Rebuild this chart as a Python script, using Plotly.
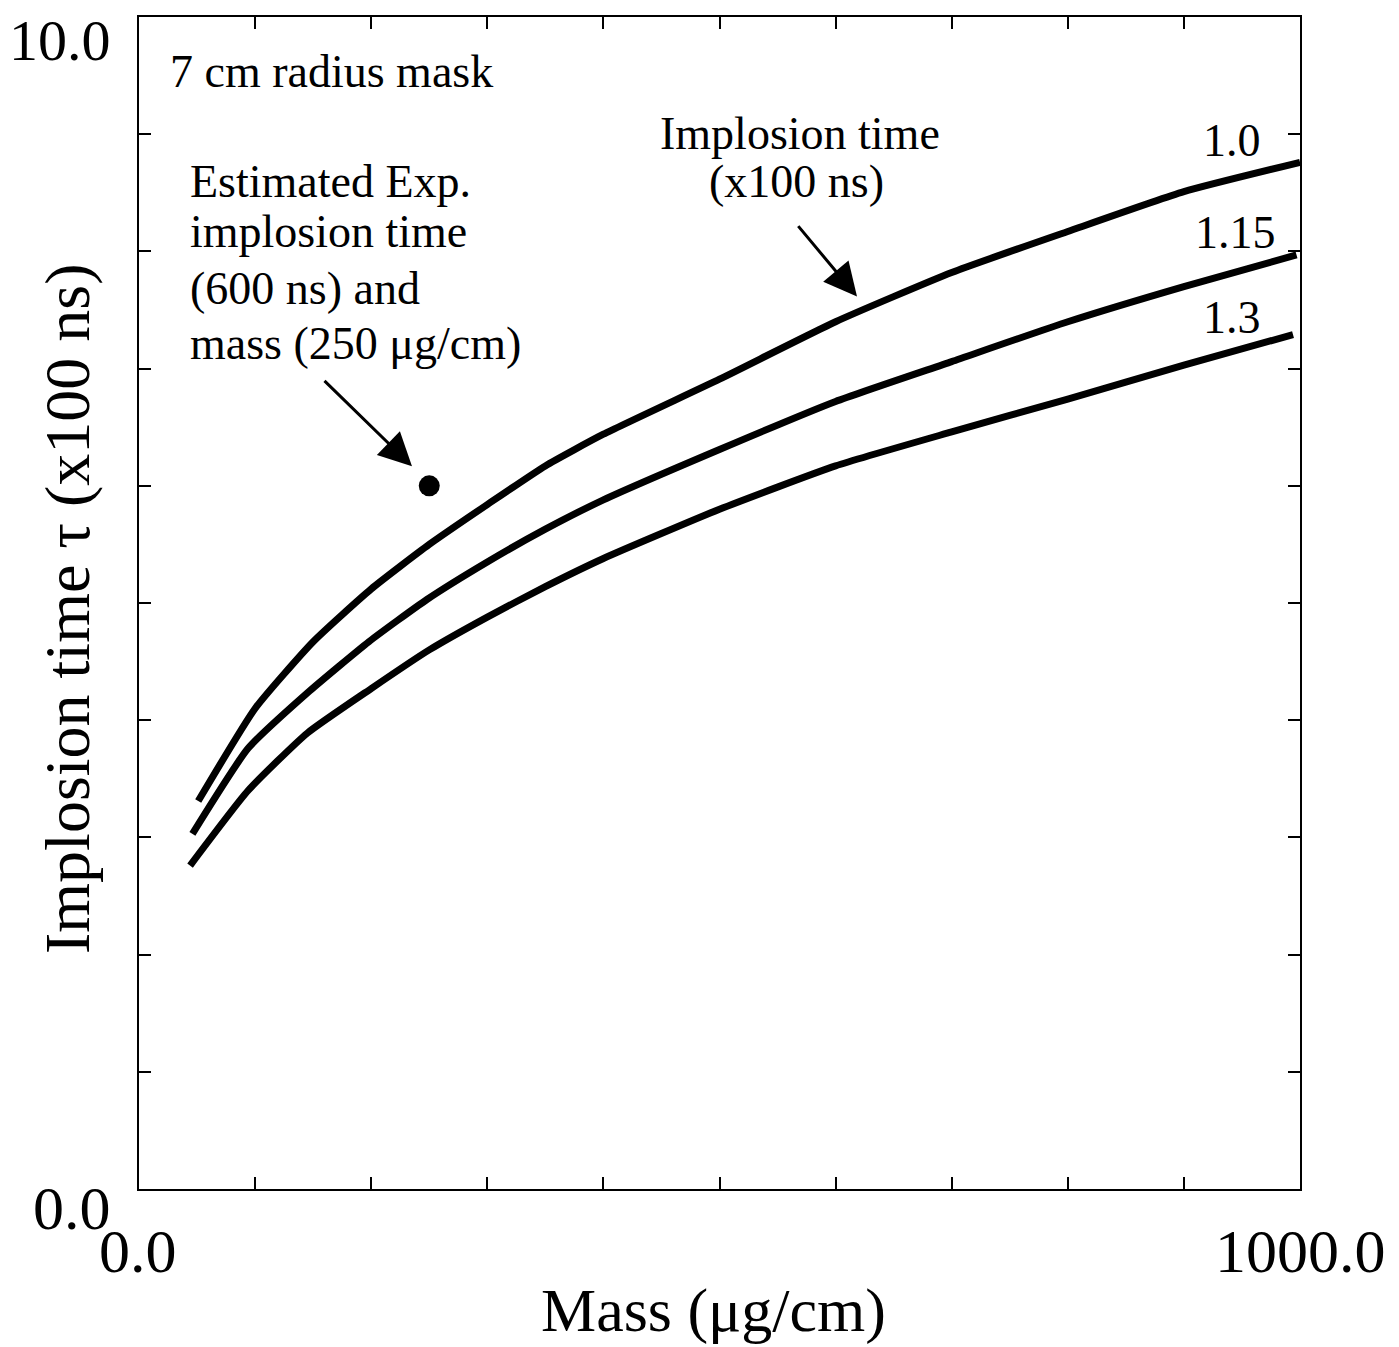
import plotly.graph_objects as go

# ---- data ----
mass_10 = [51, 100, 150, 200, 250, 300, 350, 400, 500, 600, 700, 800, 900, 1000]
tau_10 = [3.31, 4.10, 4.67, 5.12, 5.50, 5.84, 6.17, 6.44, 6.91, 7.40, 7.82, 8.17, 8.51, 8.76]

mass_115 = [46, 94, 147, 198, 248, 300, 350, 400, 500, 600, 700, 800, 900, 997]
tau_115 = [3.03, 3.76, 4.25, 4.67, 5.03, 5.35, 5.63, 5.88, 6.31, 6.72, 7.06, 7.40, 7.70, 7.97]

mass_13 = [44, 94, 145, 200, 250, 300, 350, 400, 500, 600, 700, 800, 900, 994]
tau_13 = [2.76, 3.40, 3.89, 4.27, 4.60, 4.88, 5.14, 5.38, 5.80, 6.17, 6.46, 6.74, 7.03, 7.29]

curve_labels = ["1.0", "1.15", "1.3"]

exp_mass = [250]
exp_tau = [6.0]

x_tick_labels = ["0.0", "1000.0"]
y_tick_labels = ["0.0", "10.0"]

x_title = "Mass (μg/cm)"
y_title = "Implosion time τ (x100 ns)"
mask_text = "7 cm radius mask"
exp_text_lines = ["Estimated Exp.", "implosion time", "(600 ns) and", "mass (250 μg/cm)"]
impl_text_lines = ["Implosion time", "(x100 ns)"]

FONT = "Liberation Serif, Times New Roman, serif"

# target screen geometry of the plot area: x 139..1300, y 15..1189
PX0, PX1, PY0, PY1 = 139, 1300, 15, 1189
OFF = 8  # page body offset

def px2paper_x(px):
    return (px - PX0) / (PX1 - PX0)

def py2paper_y(py):
    return (PY1 - py) / (PY1 - PY0)

def dx(px):
    return (px - PX0) / (PX1 - PX0) * 1000

def dy(py):
    return (PY1 - py) / (PY1 - PY0) * 10

fig = go.Figure()
for xs, ys, name in [(mass_10, tau_10, curve_labels[0]),
                     (mass_115, tau_115, curve_labels[1]),
                     (mass_13, tau_13, curve_labels[2])]:
    fig.add_trace(go.Scatter(x=xs, y=ys, mode="lines", name=name,
                             line=dict(color="black", width=7, shape="spline", smoothing=0.5),
                             showlegend=False, cliponaxis=False))

fig.add_trace(go.Scatter(x=exp_mass, y=exp_tau, mode="markers",
                         marker=dict(color="black", size=21),
                         showlegend=False))

ann = []
tf = dict(family=FONT, color="black")

def txt(px, py, text, size, xanchor="center", **kw):
    d = dict(x=px2paper_x(px), y=py2paper_y(py), xref="paper", yref="paper",
             xanchor=xanchor, yanchor="middle",
             text=text, showarrow=False, font=dict(size=size, **tf))
    d.update(kw)
    ann.append(d)

# tick labels
txt(60, 39, y_tick_labels[1], 58)
txt(72, 1208, y_tick_labels[0], 62)
txt(138, 1251, x_tick_labels[0], 62)
txt(1300, 1251, x_tick_labels[1], 62)

# axis titles
txt(713, 1311, x_title, 62)
txt(68, 608, y_title, 64, textangle=-90)

# in-plot texts
txt(168, 70, mask_text, 46, xanchor="left")
for i, line in enumerate(exp_text_lines):
    txt(188, [180, 230, 287, 342][i], line, 46, xanchor="left")
txt(800, 132, impl_text_lines[0], 46)
txt(796, 180, impl_text_lines[1], 46)
for lab, px, py in zip(curve_labels, [1232, 1235, 1232], [139, 231, 316]):
    txt(px, py, lab, 46)

# arrows
for (tx, ty, hx, hy) in [(323, 378, 412, 465), (797, 223, 857, 295)]:
    ann.append(dict(x=dx(hx), y=dy(hy), ax=dx(tx), ay=dy(ty), xref="x", yref="y",
                    axref="x", ayref="y", text="", showarrow=True,
                    arrowhead=2, arrowsize=2.2, arrowwidth=3, arrowcolor="black",
                    standoff=0, startstandoff=0))

fig.update_layout(
    width=1399, height=1347,
    margin=dict(l=PX0 - OFF, r=1399 - PX1 + OFF, t=PY0 - OFF, b=1347 - PY1 + OFF),
    paper_bgcolor="white", plot_bgcolor="white",
    annotations=ann,
    font=dict(family=FONT, color="black"),
    xaxis=dict(range=[0, 1000], dtick=100, tick0=0, ticks="inside", ticklen=12,
               tickwidth=2, tickcolor="black", showticklabels=False,
               showline=True, linecolor="black", linewidth=2, mirror="allticks",
               showgrid=False, zeroline=False),
    yaxis=dict(range=[0, 10], dtick=1, tick0=0, ticks="inside", ticklen=12,
               tickwidth=2, tickcolor="black", showticklabels=False,
               showline=True, linecolor="black", linewidth=2, mirror="allticks",
               showgrid=False, zeroline=False),
)

fig.write_html("out.html")
